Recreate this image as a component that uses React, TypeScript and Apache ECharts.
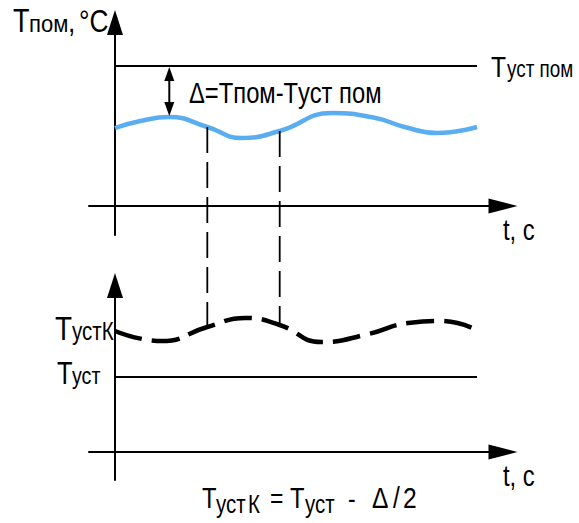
import React, { useEffect, useRef } from "react";
import * as echarts from "echarts";

// Room temperature (top panel), time units
const tRoom = [0, 0.7, 1.5, 2.55, 3.5, 4.55, 6.0, 7.2, 8.0, 8.9, 10];
const vRoom = [7.8, 8.5, 8.9, 7.9, 6.8, 7.5, 9.3, 8.8, 7.9, 7.3, 7.9];
// Corrected setpoint (bottom panel)
const tSet = [0, 1.3, 2.55, 3.6, 4.55, 5.7, 7.0, 8.1, 9.0, 10];
const vSet = [12.1, 11.1, 12.5, 13.4, 12.7, 11.0, 11.8, 12.9, 13.1, 12.2];
const setpointRoom = 14;
const setpoint = 7.5;
const lineSpan = [0, 10];
const markT = [2.55, 4.55];
const deltaT = 1.5;

const FONT = '"Liberation Sans", Arial, sans-serif';
const SX = 0.82;

function txt(x: number, b: number, s: string, f: number, sx: number = SX) {
  return {
    type: "text",
    x,
    y: b - 0.35 * f,
    scaleX: sx,
    silent: true,
    style: {
      text: s,
      fontSize: f,
      fontFamily: FONT,
      fill: "#000",
      align: "left",
      verticalAlign: "middle",
    },
  };
}

export default function App() {
  const ref = useRef<HTMLDivElement>(null);
  useEffect(() => {
    if (!ref.current) return;
    const chart = echarts.init(ref.current, undefined, { renderer: "svg" });
    const axisLine = (size: number[]) => ({
      show: true,
      onZero: true,
      symbol: ["none", "triangle"],
      symbolSize: size,
      lineStyle: { color: "#000", width: 2 },
    });
    const xAx = (gi: number) => ({
      type: "value",
      gridIndex: gi,
      min: -0.718,
      max: 10.718,
      axisLine: axisLine([15, 29]),
      axisTick: { show: false },
      axisLabel: { show: false },
      splitLine: { show: false },
    });
    const yAx = (gi: number, min: number, max: number) => ({
      type: "value",
      gridIndex: gi,
      min,
      max,
      axisLine: axisLine([16, 25]),
      axisTick: { show: false },
      axisLabel: { show: false },
      splitLine: { show: false },
    });
    chart.setOption({
      animation: false,
      backgroundColor: "#fff",
      grid: [
        { left: 89, top: 22.5, width: 414, height: 212.5, outerBoundsMode: "none", containLabel: false },
        { left: 89, top: 285.5, width: 414, height: 194.5, outerBoundsMode: "none", containLabel: false },
      ],
      xAxis: [xAx(0), xAx(1)],
      yAxis: [yAx(0, -2.9, 18.35), yAx(1, -2.8, 16.65)],
      series: [
        {
          type: "line",
          xAxisIndex: 0,
          yAxisIndex: 0,
          data: lineSpan.map((t) => [t, setpointRoom]),
          showSymbol: false,
          symbol: "none",
          lineStyle: { color: "#000", width: 2 },
          silent: true,
        },
        {
          type: "line",
          xAxisIndex: 0,
          yAxisIndex: 0,
          data: tRoom.map((t, i) => [t, vRoom[i]]),
          smooth: 0.5,
          showSymbol: false,
          symbol: "none",
          lineStyle: { color: "#5AAEF0", width: 4.5 },
          silent: true,
        },
        {
          type: "line",
          xAxisIndex: 1,
          yAxisIndex: 1,
          data: lineSpan.map((t) => [t, setpoint]),
          showSymbol: false,
          symbol: "none",
          lineStyle: { color: "#000", width: 2 },
          silent: true,
        },
        {
          type: "line",
          xAxisIndex: 1,
          yAxisIndex: 1,
          data: tSet.map((t, i) => [t, vSet[i]]),
          smooth: 0.5,
          showSymbol: false,
          symbol: "none",
          lineStyle: { color: "#000", width: 4.5, type: [28, 10], cap: "butt" },
          silent: true,
        },
      ],
    });

    const graphics: any[] = [];
    // vertical dashed connectors
    markT.forEach((t) => {
      const top = chart.convertToPixel({ gridIndex: 0 }, [t, vRoom[tRoom.indexOf(t)]]) as number[];
      const bot = chart.convertToPixel({ gridIndex: 1 }, [t, vSet[tSet.indexOf(t)]]) as number[];
      graphics.push({
        type: "line",
        silent: true,
        z: 10,
        shape: { x1: top[0], y1: top[1], x2: bot[0], y2: bot[1] },
        style: { stroke: "#000", lineWidth: 1.8, lineDash: [26, 9] },
      });
    });
    // delta double arrow
    const dvTop = vRoom[tRoom.indexOf(deltaT)];
    const pA = chart.convertToPixel({ gridIndex: 0 }, [deltaT, setpointRoom]) as number[];
    const pB = chart.convertToPixel({ gridIndex: 0 }, [deltaT, dvTop]) as number[];
    const ax = pA[0];
    graphics.push({
      type: "line",
      silent: true,
      z: 10,
      shape: { x1: ax, y1: pA[1] + 10, x2: ax, y2: pB[1] - 10 },
      style: { stroke: "#000", lineWidth: 2 },
    });
    graphics.push({
      type: "polygon",
      silent: true,
      z: 10,
      shape: { points: [[ax, pA[1] + 1], [ax - 5, pA[1] + 15], [ax + 5, pA[1] + 15]] },
      style: { fill: "#000" },
    });
    graphics.push({
      type: "polygon",
      silent: true,
      z: 10,
      shape: { points: [[ax, pB[1] - 1], [ax - 5, pB[1] - 15], [ax + 5, pB[1] - 15]] },
      style: { fill: "#000" },
    });

    // texts
    graphics.push(txt(13, 32, "T", 33));
    graphics.push(txt(29, 32, "пом", 24, 0.92));
    graphics.push(txt(68, 32, ",", 32));
    graphics.push(txt(79, 32, "°C", 32));
    graphics.push(txt(491, 77, "T", 30));
    graphics.push(txt(507, 77, "уст пом", 23));
    graphics.push(txt(189, 103, "Δ=Tпом-Tуст пом", 29));
    graphics.push(txt(503, 240, "t, c", 29));
    graphics.push(txt(55, 340, "T", 34));
    graphics.push(txt(72, 340, "устК", 25));
    graphics.push(txt(57, 384, "T", 31));
    graphics.push(txt(72, 384, "уст", 24));
    graphics.push(txt(503, 486, "t, c", 29));
    graphics.push(txt(202, 508, "T", 29));
    graphics.push(txt(216, 513, "уст", 25));
    graphics.push(txt(248, 513, "К", 25));
    graphics.push(txt(270, 508, "=", 28));
    graphics.push(txt(290, 508, "T", 29));
    graphics.push(txt(305, 513, "уст", 25));
    graphics.push(txt(348, 508, "-", 28));
    graphics.push(txt(372, 508, "Δ", 30));
    graphics.push(txt(393, 508, "/", 30));
    graphics.push(txt(403, 508, "2", 30));

    chart.setOption({ graphic: graphics });
    return () => chart.dispose();
  }, []);
  return (
    <div
      ref={ref}
      style={{ position: "fixed", left: 0, top: 0, width: 579, height: 523, background: "#fff" }}
    />
  );
}
